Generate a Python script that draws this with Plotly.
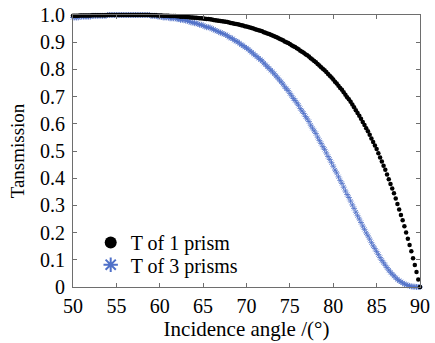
import plotly.graph_objects as go

# Incidence angle grid (degrees), 0.2 deg steps from 50 to 90
angle = [round(50 + 0.2 * k, 1) for k in range(201)]

# Transmission of 1 prism
t_one_prism = [
    0.997, 0.997, 0.997, 0.997, 0.998,
    0.998, 0.998, 0.998, 0.998, 0.998,
    0.998, 0.999, 0.999, 0.999, 0.999,
    0.999, 0.999, 0.999, 0.999, 0.999,
    1.000, 1.000, 1.000, 1.000, 1.000,
    1.000, 1.000, 1.000, 1.000, 1.000,
    1.000, 1.000, 1.000, 1.000, 1.000,
    1.000, 1.000, 1.000, 1.000, 1.000,
    1.000, 1.000, 1.000, 1.000, 1.000,
    0.999, 0.999, 0.999, 0.999, 0.998,
    0.998, 0.998, 0.997, 0.997, 0.997,
    0.997, 0.996, 0.996, 0.996, 0.996,
    0.995, 0.995, 0.994, 0.994, 0.994,
    0.993, 0.993, 0.992, 0.991, 0.991,
    0.990, 0.990, 0.989, 0.988, 0.988,
    0.987, 0.986, 0.985, 0.985, 0.984,
    0.983, 0.982, 0.981, 0.980, 0.979,
    0.978, 0.977, 0.976, 0.975, 0.974,
    0.972, 0.971, 0.970, 0.968, 0.967,
    0.966, 0.964, 0.962, 0.961, 0.959,
    0.958, 0.956, 0.954, 0.952, 0.950,
    0.948, 0.946, 0.944, 0.942, 0.940,
    0.937, 0.935, 0.932, 0.930, 0.927,
    0.925, 0.922, 0.919, 0.916, 0.913,
    0.910, 0.907, 0.903, 0.900, 0.897,
    0.893, 0.889, 0.885, 0.882, 0.878,
    0.874, 0.869, 0.865, 0.861, 0.856,
    0.852, 0.847, 0.841, 0.836, 0.831,
    0.826, 0.820, 0.814, 0.808, 0.802,
    0.797, 0.790, 0.783, 0.777, 0.770,
    0.763, 0.755, 0.748, 0.740, 0.732,
    0.725, 0.716, 0.707, 0.698, 0.690,
    0.681, 0.671, 0.661, 0.650, 0.640,
    0.630, 0.619, 0.607, 0.596, 0.584,
    0.573, 0.560, 0.546, 0.533, 0.520,
    0.507, 0.492, 0.476, 0.461, 0.446,
    0.431, 0.414, 0.396, 0.379, 0.362,
    0.345, 0.325, 0.305, 0.285, 0.265,
    0.245, 0.223, 0.200, 0.177, 0.154,
    0.131, 0.106, 0.081, 0.055, 0.028,
    0.000,
]

# Transmission of 3 prisms
t_three_prisms = [
    0.991, 0.991, 0.991, 0.991, 0.994,
    0.994, 0.994, 0.994, 0.994, 0.994,
    0.994, 0.997, 0.997, 0.997, 0.997,
    0.997, 0.997, 0.997, 0.997, 0.997,
    1.000, 1.000, 1.000, 1.000, 1.000,
    1.000, 1.000, 1.000, 1.000, 1.000,
    1.000, 1.000, 1.000, 1.000, 1.000,
    1.000, 1.000, 1.000, 1.000, 1.000,
    1.000, 1.000, 1.000, 1.000, 1.000,
    0.997, 0.997, 0.997, 0.997, 0.994,
    0.994, 0.994, 0.991, 0.991, 0.991,
    0.991, 0.988, 0.988, 0.988, 0.988,
    0.985, 0.985, 0.982, 0.982, 0.982,
    0.979, 0.979, 0.976, 0.973, 0.973,
    0.970, 0.970, 0.967, 0.964, 0.964,
    0.961, 0.958, 0.955, 0.955, 0.953,
    0.950, 0.947, 0.944, 0.941, 0.938,
    0.935, 0.933, 0.930, 0.927, 0.924,
    0.918, 0.916, 0.913, 0.907, 0.904,
    0.901, 0.896, 0.890, 0.888, 0.882,
    0.879, 0.874, 0.868, 0.863, 0.857,
    0.852, 0.847, 0.841, 0.836, 0.831,
    0.823, 0.817, 0.810, 0.804, 0.797,
    0.791, 0.784, 0.776, 0.769, 0.761,
    0.754, 0.746, 0.736, 0.729, 0.722,
    0.712, 0.703, 0.693, 0.686, 0.677,
    0.668, 0.656, 0.647, 0.638, 0.627,
    0.618, 0.608, 0.595, 0.584, 0.574,
    0.564, 0.551, 0.539, 0.528, 0.516,
    0.506, 0.493, 0.480, 0.469, 0.457,
    0.444, 0.430, 0.419, 0.405, 0.392,
    0.381, 0.367, 0.353, 0.340, 0.329,
    0.316, 0.302, 0.289, 0.275, 0.262,
    0.250, 0.237, 0.224, 0.212, 0.199,
    0.188, 0.176, 0.163, 0.151, 0.141,
    0.130, 0.119, 0.108, 0.098, 0.089,
    0.080, 0.071, 0.062, 0.054, 0.047,
    0.041, 0.034, 0.028, 0.023, 0.019,
    0.015, 0.011, 0.008, 0.006, 0.004,
    0.002, 0.001, 0.001, 0.000, 0.000,
    0.000,
]

x_ticks = [50, 55, 60, 65, 70, 75, 80, 85, 90]
y_ticks = [0, 0.1, 0.2, 0.3, 0.4, 0.5, 0.6, 0.7, 0.8, 0.9, 1.0]
y_tick_text = ["0", "0.1", "0.2", "0.3", "0.4", "0.5", "0.6", "0.7", "0.8", "0.9", "1.0"]

FONT = "'Liberation Serif', 'DejaVu Serif', 'Times New Roman', Times, serif"

fig = go.Figure()
fig.add_trace(go.Scatter(
    x=angle, y=t_three_prisms, mode="markers", name="T of 3 prisms",
    marker=dict(symbol="asterisk-open", size=5, color="#4f70c8",
                line=dict(width=0.8, color="#4f70c8")),
    cliponaxis=False, legend="legend2",
))
fig.add_trace(go.Scatter(
    x=angle, y=t_one_prism, mode="markers", name="T of 1 prism",
    marker=dict(symbol="circle", size=4.5, color="black"),
    cliponaxis=False, legend="legend",
))

axis_common = dict(
    showgrid=False, zeroline=False, showline=True, linecolor="#6e6e6e",
    linewidth=1, mirror="ticks", ticks="inside", ticklen=4, automargin=False,
    tickcolor="#6e6e6e", tickfont=dict(family=FONT, size=20, color="black"),
)

legend_common = dict(
    xanchor="left", yanchor="middle", bgcolor="rgba(0,0,0,0)", borderwidth=0,
    font=dict(family=FONT, size=20, color="black"), itemsizing="constant",
)

fig.update_layout(
    width=435, height=343,
    margin=dict(l=73, r=15, t=15, b=56),
    paper_bgcolor="white", plot_bgcolor="white",
    font=dict(family=FONT, color="black"),
    showlegend=True,
    legend=dict(x=0.051, y=0.164, **legend_common),
    legend2=dict(x=0.051, y=0.082, **legend_common),
    xaxis=dict(range=[50, 90], tickvals=x_ticks,
               title=dict(text="Incidence angle /(°)", font=dict(family=FONT, size=21), standoff=0),
               ticklabelstandoff=1,
               **axis_common),
    yaxis=dict(range=[0, 1], tickvals=y_ticks, ticktext=y_tick_text,
               title=dict(text="Tansmission", font=dict(family=FONT, size=19), standoff=10),
               ticklabelstandoff=3,
               **axis_common),
)

fig.write_html("out.html")
